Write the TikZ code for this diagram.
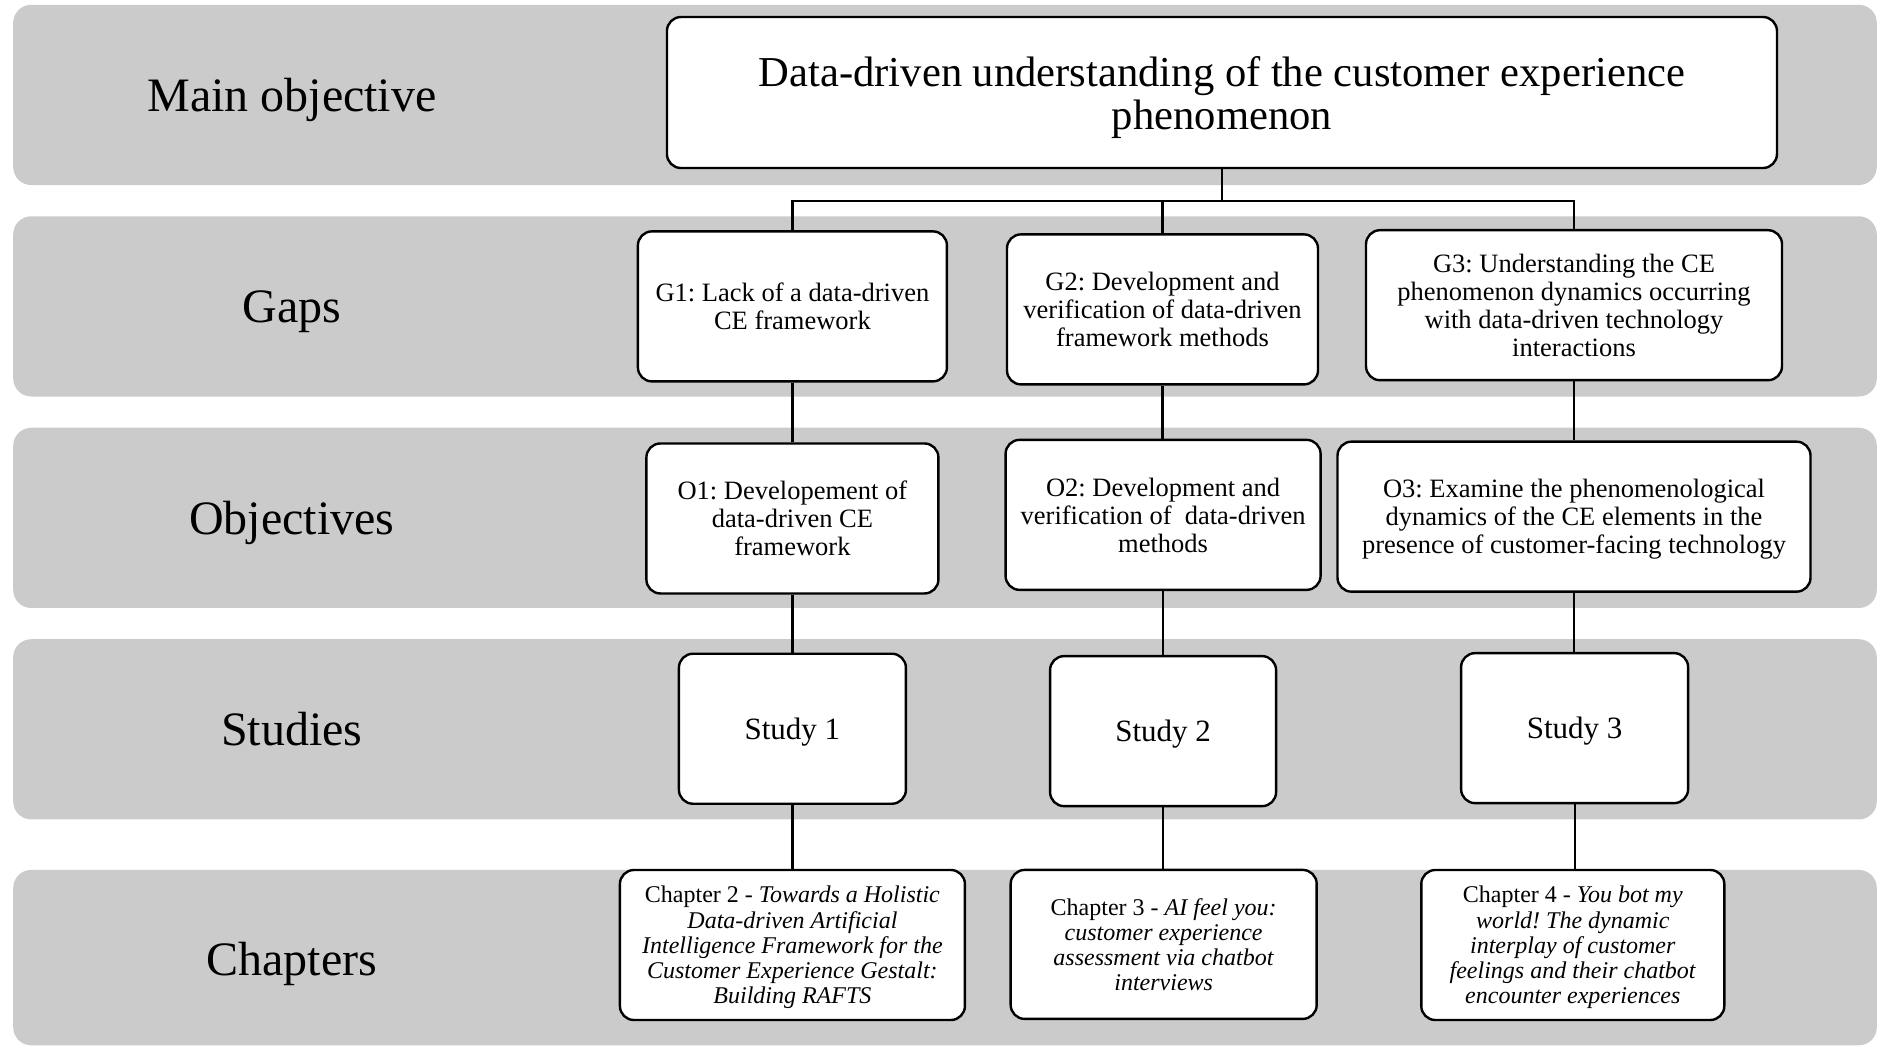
\documentclass[tikz,border=0pt]{standalone}
\usepackage{fontspec}
\setmainfont{Liberation Serif}
\frenchspacing
\definecolor{bandgray}{RGB}{203,203,203}
\tikzset{
  band/.style={fill=bandgray, draw=none, rounded corners=18pt},
  rowlabel/.style={font=\fontsize{48}{52}\selectfont, inner sep=0pt, text depth=0pt},
  box/.style={draw=black, line width=2.4pt, fill=white, rounded corners=14pt,
              align=center, inner sep=0pt, minimum height=150pt, text depth=0pt},
  maintext/.style={font=\fontsize{42.6}{43}\selectfont},
  gaptext/.style={font=\fontsize{26.5}{28}\selectfont},
  studytext/.style={font=\fontsize{31}{33}\selectfont},
  chaptext/.style={font=\fontsize{24}{25.2}\selectfont},
  link/.style={draw=black, line width=2.2pt}
}
\begin{document}
\begin{tikzpicture}[x=1.2015pt,y=-1.2015pt]
  \useasboundingbox (0,0) rectangle (1568,871.4);

  % horizontal bands
  \fill[band] (11,4)   rectangle (1562,154);
  \fill[band] (11,180) rectangle (1562,330);
  \fill[band] (11,356) rectangle (1562,506);
  \fill[band] (11,532) rectangle (1562,682);
  \fill[band] (11,724) rectangle (1562,870);

  % row labels
  \node[rowlabel] (lmain) at (243,79)  {Main objective};
  \node[rowlabel] (lgaps) at (243,255) {Gaps};
  \node[rowlabel] (lobj)  at (243,431) {Objectives};
  \node[rowlabel] (lstud) at (243,607) {Studies};
  \node[rowlabel] (lchap) at (243,798) {Chapters};

  % main objective
  \node[box, maintext, minimum width=1110pt, minimum height=151pt] (main) at (1017,77)
    {Data-driven understanding of the customer experience\\phenomenon};

  % gaps
  \node[box, gaptext, minimum width=309pt] (g1) at (659.5,255)
    {G1: Lack of a data-driven\\CE framework};
  \node[box, gaptext, minimum width=311pt] (g2) at (967.5,257.5)
    {G2: Development and\\verification of data-driven\\framework methods};
  \node[box, gaptext, minimum width=416pt] (g3) at (1310,254)
    {G3: Understanding the CE\\phenomenon dynamics occurring\\with data-driven technology\\interactions};

  % objectives
  \node[box, gaptext, minimum width=292pt] (o1) at (659.5,431.5)
    {O1: Developement of\\data-driven CE\\framework};
  \node[box, gaptext, minimum width=315pt] (o2) at (968,428.5)
    {O2: Development and\\verification of\ \ data-driven\\methods};
  \node[box, gaptext, minimum width=473pt] (o3) at (1310,430)
    {O3: Examine the phenomenological\\dynamics of the CE elements in the\\presence of customer-facing technology};

  % studies
  \node[box, studytext, minimum width=227pt] (s1) at (659.5,606.5) {Study 1};
  \node[box, studytext, minimum width=226pt] (s2) at (968,608.5)  {Study 2};
  \node[box, studytext, minimum width=227pt] (s3) at (1310.5,606) {Study 3};

  % chapters
  \node[box, chaptext, minimum width=345pt] (c1) at (659.5,786.5)
    {Chapter 2 - \textit{Towards a Holistic}\\\textit{Data-driven Artificial}\\\textit{Intelligence Framework for the}\\\textit{Customer Experience Gestalt:}\\\textit{Building RAFTS}};
  \node[box, chaptext, minimum width=306pt, minimum height=149pt] (c2) at (968.5,786)
    {Chapter 3 - \textit{AI feel you:}\\\textit{customer experience}\\\textit{assessment via chatbot}\\\textit{interviews}};
  \node[box, chaptext, minimum width=303pt] (c3) at (1309,786.5)
    {Chapter 4 - \textit{You bot my}\\\textit{world! The dynamic}\\\textit{interplay of customer}\\\textit{feelings and their chatbot}\\\textit{encounter experiences}};

  % tree connectors
  \coordinate (bus) at (1017,167);
  \draw[link] (main.south) -- (bus);
  \draw[link] (g1.north) |- (bus) -| (g3.north);
  \draw[link] (g2.north) -- (g2.north |- bus);

  \draw[link] (g1.south) -- (g1.south |- o1.north);
  \draw[link] (g2.south) -- (g2.south |- o2.north);
  \draw[link] (g3.south) -- (g3.south |- o3.north);

  \draw[link] (o1.south) -- (o1.south |- s1.north);
  \draw[link] (o2.south) -- (o2.south |- s2.north);
  \draw[link] (o3.south) -- (o3.south |- s3.north);

  \draw[link] (s1.south) -- (s1.south |- c1.north);
  \draw[link] (s2.south) -- (s2.south |- c2.north);
  \draw[link] (s3.south) -- (s3.south |- c3.north);
\end{tikzpicture}
\end{document}
